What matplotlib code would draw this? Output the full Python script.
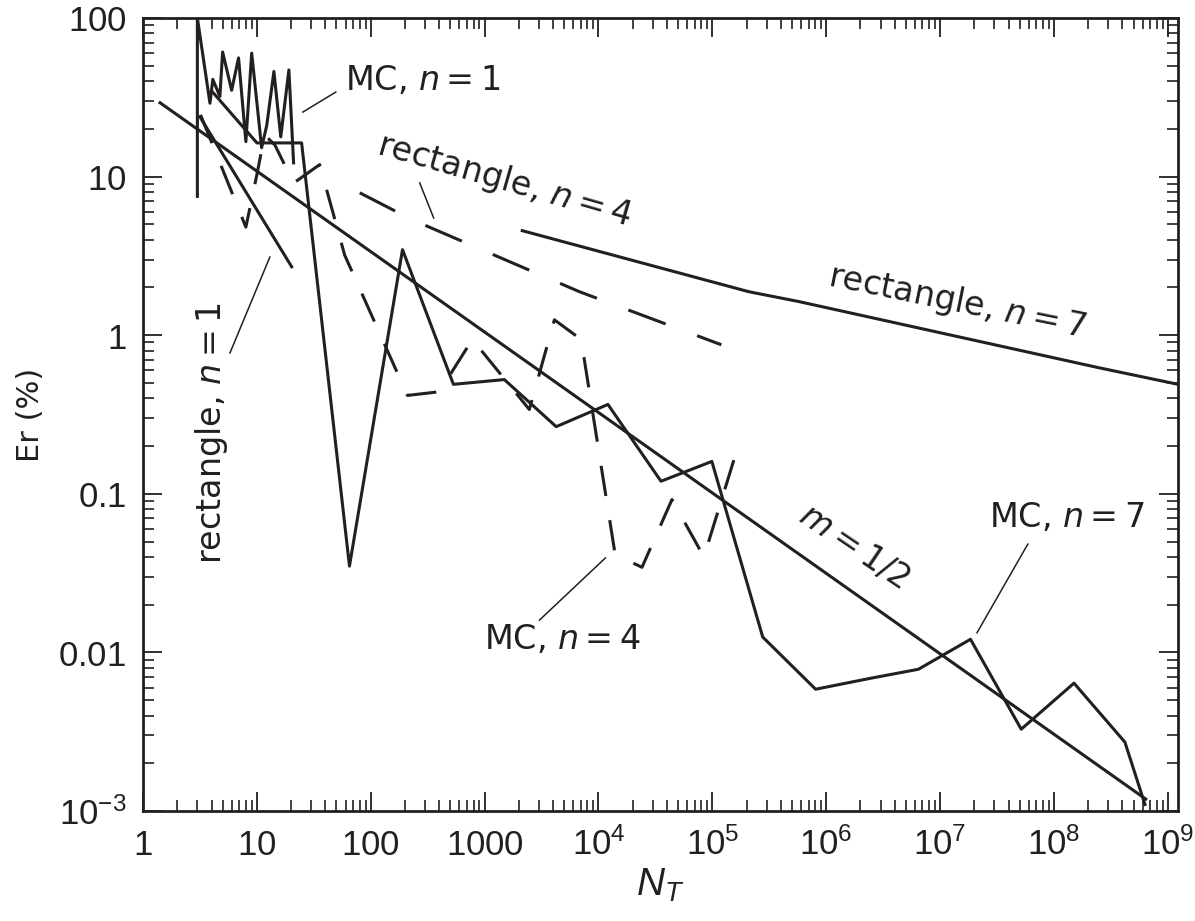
import matplotlib
matplotlib.use("Agg")
import matplotlib.pyplot as plt
from matplotlib.ticker import LogLocator, FixedLocator, NullFormatter

plt.rcParams['font.family'] = ['DejaVu Sans']
plt.rcParams['mathtext.fontset'] = 'custom'
plt.rcParams['mathtext.rm'] = 'DejaVu Sans'
plt.rcParams['mathtext.it'] = 'DejaVu Sans:italic'
plt.rcParams['mathtext.sf'] = 'Liberation Sans'
plt.rcParams['mathtext.bf'] = 'Liberation Sans:italic'

ink = '#231f20'

# --- data ---
mc1_N = [3, 3, 3.87, 4.1, 4.73, 5.0, 6.0, 6.9, 8.0, 9.0, 11.0, 12.2, 14.1, 16.2, 19.1, 21]
mc1_Er = [7.5, 100, 29, 41, 32, 61, 35, 56, 16.6, 60, 15.2, 21, 46, 17.8, 47, 12.2]

mc4_N = [3.2, 8, 10, 11.7, 14.4, 21, 35.6, 59, 210, 400, 780, 2470, 4100, 7040,
         14000, 24100, 44200, 84300, 1.6e5]
mc4_Er = [24.5, 4.8, 10.3, 18.3, 15.8, 9.1, 11.9, 3.2, 0.417, 0.44, 0.94, 0.34, 1.25, 0.94,
          0.0415, 0.0344, 0.092, 0.040, 0.177]

mc7_N = [4.1, 10, 24.7, 65, 190, 532, 1490, 4250, 12100, 35400, 99000, 2.77e5, 8.07e5,
         2.45e6, 6.45e6, 1.85e7, 5.16e7, 1.5e8, 4.2e8, 6.3e8]
mc7_Er = [34, 16.3, 16.3, 0.035, 3.46, 0.49, 0.525, 0.265, 0.366, 0.12, 0.16, 0.0125, 0.00586,
          0.00687, 0.00783, 0.0121, 0.00328, 0.0064, 0.00272, 0.0011]

rect1_N = [3.16, 20.2]
rect1_Er = [23.8, 2.7]
rect4_N = [80, 230, 6800, 1.2e5]
rect4_Er = [7.9, 5.35, 1.88, 0.87]
rect7_N = [2140, 2.09e5, 5.73e5, 2.44e8, 1.23e9]
rect7_Er = [4.56, 1.88, 1.63, 0.625, 0.49]
half_N = [1.41, 6.4e8]
half_Er = [29.2, 1.19e-3]

x_ticks = [1, 10, 100, 1000, 1e4, 1e5, 1e6, 1e7, 1e8, 1e9]
x_labels = ['1', '10', '100', '1000', '10^{4}', '10^{5}', '10^{6}', '10^{7}', '10^{8}', '10^{9}']
y_ticks = [1e-3, 0.01, 0.1, 1, 10, 100]
y_labels = ['10^{-3}', '0.01', '0.1', '1', '10', '100']

# labels: text, position (N, Er), rotation
labels = [("MC, $n=1$", 59, 40.6, 0, 'left'),
          ("rectangle, $n=4$", 1496, 9.5, -16, 'center'),
          ("rectangle, $n=7$", 1.41e7, 1.62, -11.5, 'center'),
          ("rectangle, $n=1$", 4.03, 0.241, 90, 'center'),
          ("$m=1/2$", 1.76e6, 0.0462, -34, 'center'),
          ("MC, $n=4$", 4830, 0.012, 0, 'center'),
          ("MC, $n=7$", 1.3e8, 0.0714, 0, 'center')]
leaders = [([25.3, 49.3], [25.5, 34.1]),
           ([269, 357], [9.12, 5.48]),
           ([13.0, 5.8], [3.11, 0.773]),
           ([3036, 11500], [0.016, 0.0394]),
           ([2.11e7, 5.9e7], [0.0133, 0.0482])]

fig = plt.figure(figsize=(11.95, 9.21), dpi=100)
ax = fig.add_axes([0.1197, 0.1194, 0.8661, 0.8611])

lw = 2.2
ax.plot(mc1_N, mc1_Er, color=ink, lw=lw)
ax.plot(mc7_N, mc7_Er, color=ink, lw=lw)
ax.plot(mc4_N, mc4_Er, color=ink, lw=lw, dashes=(10, 8))
ax.plot(rect1_N, rect1_Er, color=ink, lw=lw)
ax.plot(rect4_N, rect4_Er, color=ink, lw=lw, dashes=(13, 11))
ax.plot(rect7_N, rect7_Er, color=ink, lw=lw)
ax.plot(half_N, half_Er, color=ink, lw=lw)

for xs, ys in leaders:
    ax.plot(xs, ys, color=ink, lw=1.1)

for txt, x, y, rot, ha in labels:
    ax.text(x, y, txt, fontsize=24, color=ink, rotation=rot, ha=ha, va='center',
            rotation_mode='anchor')

ax.set_xscale('log')
ax.set_yscale('log')
ax.set_xlim(1, 1.23e9)
ax.set_ylim(1e-3, 100)

ax.xaxis.set_major_locator(FixedLocator(x_ticks))
ax.set_xticklabels([r'$\mathsf{%s}$' % s for s in x_labels])
ax.yaxis.set_major_locator(FixedLocator(y_ticks))
ax.set_yticklabels([r'$\mathsf{%s}$' % s for s in y_labels])
for a in (ax.xaxis, ax.yaxis):
    a.set_minor_locator(LogLocator(base=10, subs=range(2, 10), numticks=20))
    a.set_minor_formatter(NullFormatter())

ax.tick_params(which='both', direction='in', top=True, right=True, color=ink, labelcolor=ink)
ax.tick_params(which='major', length=14, width=1.3, labelsize=25, pad=12)
ax.tick_params(which='minor', length=8, width=1.2)
for s in ax.spines.values():
    s.set_linewidth(2)
    s.set_color(ink)

ax.set_ylabel('Er (%)', fontsize=22, color=ink, labelpad=10)
ax.set_xlabel(r'$\mathbf{N_T}$', fontsize=28, color=ink, labelpad=3)

fig.savefig('out.png', dpi=100)
